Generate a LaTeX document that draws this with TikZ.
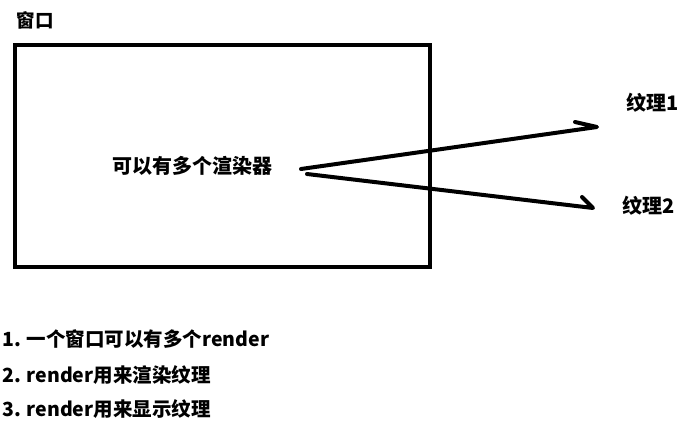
\documentclass[tikz,border=0pt]{standalone}
\usepackage{fontspec}
\setmainfont{Noto Sans CJK SC}
\begin{document}
\begin{tikzpicture}[x=1pt,y=1pt,
  txt/.style={inner sep=0pt,font=\fontsize{20}{22}\selectfont\bfseries},
  thick4/.style={line width=4pt,line cap=round,line join=round}]
\useasboundingbox (0,0) rectangle (692,-427);
\fill[white] (0,0) rectangle (692,-427);
% window
\draw[line width=4pt] (15,-45) rectangle (430,-267);
\node[txt,font=\fontsize{18.5}{20}\selectfont\bfseries] (title) at (35,-20) {窗口};
\node[txt] (c) at (192,-166) {可以有多个渲染器};
\node[txt,anchor=west] (t1) at (626,-103) {纹理1};
\node[txt,anchor=west] (t2) at (622,-206) {纹理2};
% arrows
\coordinate (a1s) at (301,-169);
\coordinate (a1e) at (597,-127);
\coordinate (a1b) at (575,-122);
\coordinate (a2s) at (307,-174);
\coordinate (a2e) at (593,-208);
\coordinate (a2b) at (582,-197);
\draw[thick4] (a1s) -- (a1e) -- (a1b);
\draw[thick4] (a2s) -- (a2e) -- (a2b);
% list
\node[txt,anchor=west,font=\fontsize{19.5}{22}\selectfont\bfseries] (l1) at (2,-339) {1. 一个窗口可以有多个render};
\node[txt,anchor=west,font=\fontsize{19.5}{22}\selectfont\bfseries] (l2) at (2,-375) {2. render用来渲染纹理};
\node[txt,anchor=west,font=\fontsize{19.5}{22}\selectfont\bfseries] (l3) at (2,-409) {3. render用来显示纹理};
\end{tikzpicture}
\end{document}
